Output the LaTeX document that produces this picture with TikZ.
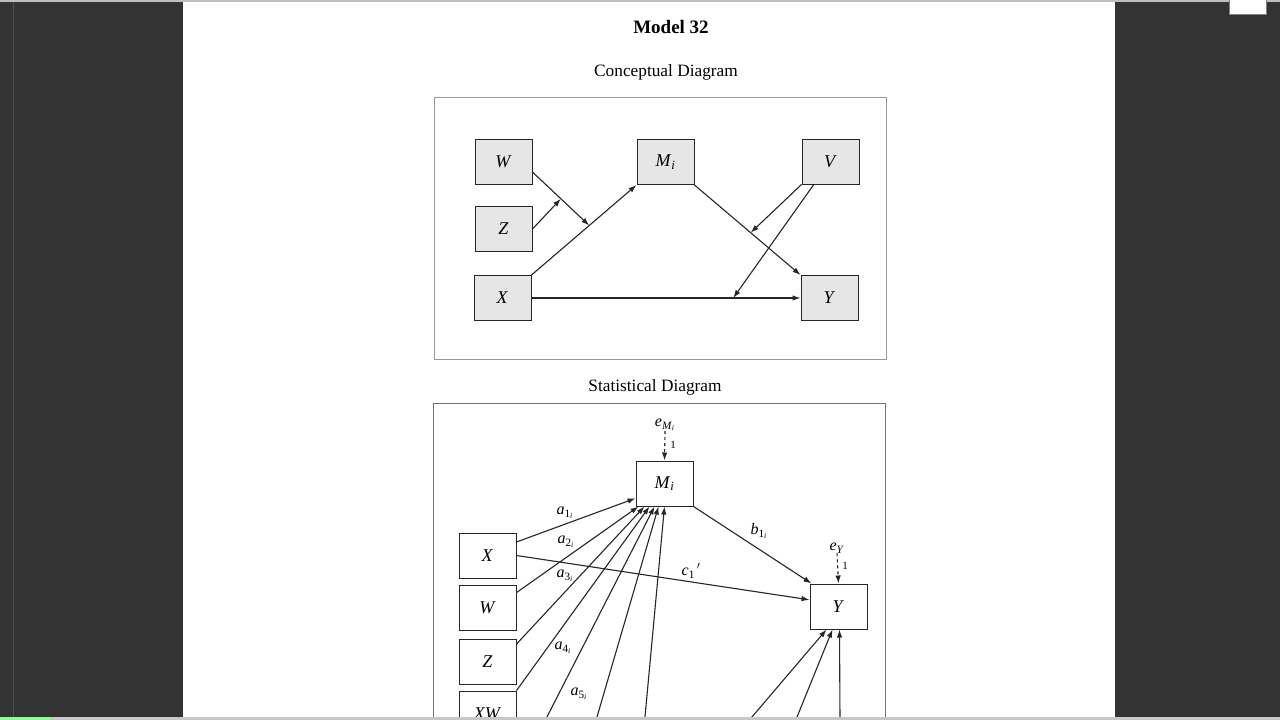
\documentclass[tikz,border=0pt]{standalone}
\usepackage{amsmath}
\usepackage{fontspec}
\setmainfont{Liberation Serif}
\usetikzlibrary{arrows.meta}

\definecolor{viewer}{HTML}{333333}
\definecolor{boxfill}{HTML}{E6E6E6}
\newcommand{\iv}[1]{\textit{#1}}
\newcommand{\ivsub}[2]{\textit{#1}\textsubscript{#2}}

\begin{document}
\begin{tikzpicture}[x=1pt,y=-1pt,
    var/.style={draw=black!85,line width=1pt,minimum width=57pt,minimum height=45pt,
      inner sep=0pt,font=\fontsize{18}{18}\selectfont},
    cvar/.style={var,fill=boxfill},
    link/.style={line width=1.1pt,draw=black!85,-{Latex[length=8pt,width=5.5pt]}},
    err/.style={link,dashed},
    coef/.style={inner sep=0pt,font=\fontsize{16}{16}\selectfont},
    heading/.style={inner sep=0pt,font=\fontsize{17.3}{17.3}\selectfont}]
  \useasboundingbox (0,0) rectangle (1280,720);
  % viewer window
  \fill[viewer] (0,0) rectangle (1280,720);
  \draw[black!70] (13,0) -- (13,717);
  \fill[white] (183,0) rectangle (1115,717);
  \fill[black!25] (0,0) rectangle (1280,1.5);
  \draw[fill=white,draw=black!50] (1229,-1) rectangle (1266,14);

  % titles
  \node[heading,font=\bfseries\fontsize{19}{19}\selectfont] (title) at (671,27) {Model 32};
  \node[heading] (ctitle) at (666,72) {Conceptual Diagram};
  \node[heading] (stitle) at (655,387) {Statistical Diagram};

  % conceptual diagram
  \draw[black!40,line width=0.8pt] (434,97) rectangle (886,359);
  \node[cvar] (cW) at (503.5,161.5) {\iv{W}};
  \node[cvar] (cZ) at (503.5,229) {\iv{Z}};
  \node[cvar] (cX) at (502.5,298) {\iv{X}};
  \node[cvar] (cM) at (665.5,162) {\ivsub{M}{\iv{i}}};
  \node[cvar] (cV) at (830.5,161.5) {\iv{V}};
  \node[cvar] (cY) at (829.5,298) {\iv{Y}};
  \draw[link] (cX.north east) -- coordinate[pos=0.55] (cxm) (cM.south west);
  \draw[link] (cW.-20) -- coordinate[pos=0.5] (cwz) (cxm);
  \draw[link] (cZ.east) -- (cwz);
  \draw[link] (cM.south east) -- coordinate[pos=0.53] (cmy) (cY.north west);
  \draw[link] (cX.east) -- coordinate[pos=0.75] (cxy) (cY.west);
  \draw[link] (cV.south west) -- (cmy);
  \draw[link] (cV.-126) -- (cxy);

  % statistical diagram
  \draw[black!55,line width=0.8pt] (433,730) |- (885,403) -- (885,730);
  \node[var] (sM) at (664.5,483.5) {\ivsub{M}{\iv{i}}};
  \node[var] (sY) at (838.5,606.5) {\iv{Y}};
  \node[var] (sX) at (487.5,555.5) {\iv{X}};
  \node[var] (sW) at (487.5,608) {\iv{W}};
  \node[var] (sZ) at (487.5,661.5) {\iv{Z}};
  \node[var] (sXW) at (487.5,713.5) {\iv{XW}};
  \coordinate (s5) at (545.4,720);
  \coordinate (s6) at (596.1,720);
  \coordinate (s7) at (644.7,720);
  \coordinate (t1) at (749.4,720);
  \coordinate (t2) at (795.8,720);
  \coordinate (t3) at (840,720);
  \node[coef] (eM) at (665,425) {\ivsub{e}{\ivsub{M}{\iv{i}}}};
  \node[coef,font=\fontsize{11}{11}\selectfont] (oneM) at (673,445) {1};
  \node[coef] (eY) at (837,548) {\ivsub{e}{\iv{Y}}};
  \node[coef,font=\fontsize{11}{11}\selectfont] (oneY) at (845,566) {1};
  \draw[err] (eM.south) -- (sM.north);
  \draw[err] (eY.south) -- (sY.north);

  \draw[link] (sX.25) -- (sM.-153);
  \draw[link] (sW.28) -- ([xshift=3pt]sM.south west);
  \draw[link] (sZ.31) -- ([xshift=9pt]sM.south west);
  \draw[link] (sXW.north east) -- ([xshift=14pt]sM.south west);
  \draw[link] (s5) -- ([xshift=19pt]sM.south west);
  \draw[link] (s6) -- ([xshift=23pt]sM.south west);
  \draw[link] (s7) -- ([xshift=29pt]sM.south west);
  \draw[link] (sX.east) -- (sY.167);
  \draw[link] (sM.south east) -- ([xshift=2pt]sY.north west);
  \draw[link] (t1) -- ([xshift=17pt]sY.south west);
  \draw[link] (t2) -- ([xshift=23pt]sY.south west);
  \draw[link] (t3) -- ([xshift=30pt]sY.south west);

  \node[coef] (la1) at (565,513) {\ivsub{a}{1\textsubscript{\iv{i}}}};
  \node[coef] (la2) at (566,542) {\ivsub{a}{2\textsubscript{\iv{i}}}};
  \node[coef] (la3) at (565,576) {\ivsub{a}{3\textsubscript{\iv{i}}}};
  \node[coef] (la4) at (563,648) {\ivsub{a}{4\textsubscript{\iv{i}}}};
  \node[coef] (la5) at (579,694) {\ivsub{a}{5\textsubscript{\iv{i}}}};
  \node[coef] (lb1) at (759,531) {\ivsub{b}{1\textsubscript{\iv{i}}}};
  \node[coef] (lc1) at (691,571) {\ivsub{c}{1}\textsuperscript{\,$\prime$}};

  % status bar
  \fill[black!22] (0,717) rectangle (1280,720);
  \fill[green!45] (0,717) rectangle (50,720);
\end{tikzpicture}
\end{document}
